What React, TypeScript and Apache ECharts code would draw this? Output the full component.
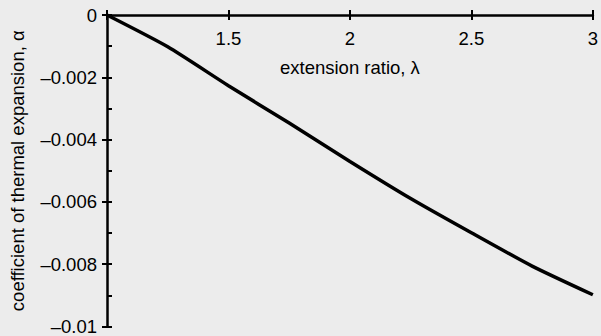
import React, { useEffect, useRef } from "react";
import * as echarts from "echarts";

const lambdaValues = [1, 1.25, 1.5, 1.75, 2, 2.25, 2.5, 2.75, 3];
const alphaValues = [0, -0.00102, -0.00227, -0.00347, -0.0047, -0.00589, -0.00699, -0.00806, -0.00898];
const xTitle = "extension ratio, λ";
const yTitle = "coefficient of thermal expansion, α";

const FONT = "'Liberation Sans', Arial, Helvetica, sans-serif";
const FS = 18.5;
const fmt = (v: number) => {
  const s = String(+v.toFixed(4));
  return s.replace("-", "\u2013");
};

export default function App() {
  const ref = useRef<HTMLDivElement>(null);
  useEffect(() => {
    if (!ref.current) return;
    const chart = echarts.init(ref.current, undefined, { renderer: "svg" });
    const axisLine = { show: true, onZero: false, lineStyle: { color: "#000", width: 2.5 } };
    const tickStyle = { color: "#000", width: 2 };
    chart.setOption({
      animation: false,
      backgroundColor: "#ececec",
      grid: { left: 107, top: 15, right: 2, bottom: 7 },
      xAxis: [
        {
          type: "value",
          position: "top",
          min: 1,
          max: 3,
          interval: 0.5,
          axisLine,
          axisTick: { show: true, inside: false, length: 5, lineStyle: tickStyle },
          axisLabel: {
            inside: true,
            margin: 14,
            color: "#000",
            fontSize: FS,
            fontFamily: FONT,
            formatter: (v: number) => (v === 1 ? "" : fmt(v)),
          },
          splitLine: { show: false },
          name: xTitle,
          nameLocation: "middle",
          nameGap: -62,
          nameTextStyle: { color: "#000", fontSize: FS, fontFamily: FONT },
        },
        {
          type: "value",
          position: "top",
          min: 1,
          max: 3,
          interval: 0.5,
          axisLine: { show: false },
          axisTick: { show: true, inside: true, length: 5, lineStyle: tickStyle },
          axisLabel: { show: false },
          splitLine: { show: false },
        },
      ],
      yAxis: [
        {
          type: "value",
          position: "left",
          min: -0.01,
          max: 0,
          interval: 0.002,
          axisLine,
          axisTick: { show: true, inside: false, length: 5, lineStyle: tickStyle },
          axisLabel: {
            margin: 10,
            color: "#000",
            fontSize: FS,
            fontFamily: FONT,
            formatter: fmt,
          },
          splitLine: { show: false },
          name: yTitle,
          nameLocation: "middle",
          nameGap: 80,
          nameRotate: 90,
          nameTextStyle: { color: "#000", fontSize: FS, fontFamily: FONT },
        },
        {
          type: "value",
          position: "left",
          offset: 0,
          min: -0.01,
          max: 0,
          interval: 0.002,
          axisLine: { show: false },
          axisTick: { show: true, inside: true, length: 5, lineStyle: tickStyle },
          minorTick: { show: true, splitNumber: 2, length: 5, lineStyle: tickStyle },
          axisLabel: { show: false },
          splitLine: { show: false },
        },
      ],
      series: [
        {
          type: "line",
          xAxisIndex: 0,
          yAxisIndex: 0,
          data: lambdaValues.map((l, i) => [l, alphaValues[i]]),
          smooth: 0.2,
          showSymbol: false,
          symbol: "none",
          lineStyle: { color: "#000", width: 3.5 },
          clip: false,
        },
      ],
    });
    return () => chart.dispose();
  }, []);
  return (
    <div
      ref={ref}
      style={{ position: "fixed", left: 0, top: 0, width: 601, height: 336 }}
    />
  );
}
